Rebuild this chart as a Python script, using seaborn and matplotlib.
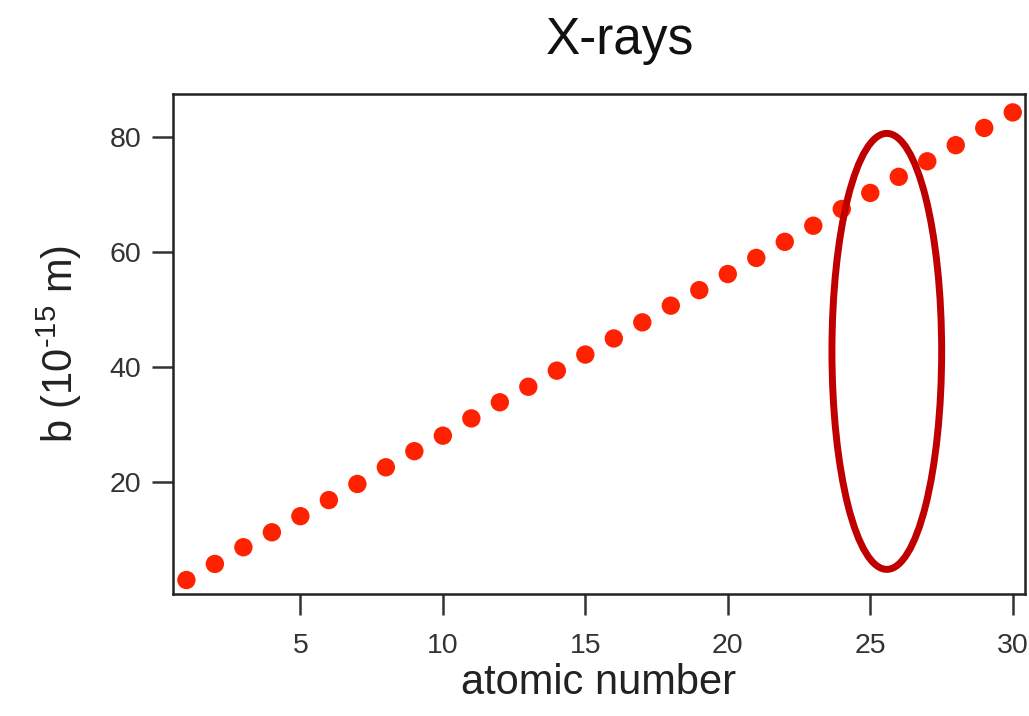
import matplotlib
matplotlib.use("Agg")
import matplotlib.pyplot as plt
import seaborn as sns
import pandas as pd
from matplotlib.patches import Ellipse

atomic_number = list(range(1, 31))
b_values = [3.0, 5.8, 8.7, 11.3, 14.1, 16.9, 19.7, 22.6, 25.4, 28.1,
            31.1, 33.9, 36.6, 39.4, 42.2, 45.0, 47.8, 50.7, 53.4, 56.2,
            59.0, 61.8, 64.6, 67.5, 70.3, 73.1, 75.8, 78.6, 81.6, 84.3]
x_ticks = [5, 10, 15, 20, 25, 30]
y_ticks = [20, 40, 60, 80]
highlight_center = (25.58, 42.75)
highlight_size = (3.85, 75.8)

sns.set_theme(style="ticks")
plt.rcParams['font.family'] = ['Liberation Sans', 'DejaVu Sans']
plt.rcParams['mathtext.fontset'] = 'custom'
plt.rcParams['mathtext.rm'] = 'Liberation Sans'
plt.rcParams['mathtext.it'] = 'Liberation Sans'
plt.rcParams['mathtext.bf'] = 'Liberation Sans'

df = pd.DataFrame({"atomic number": atomic_number, "b": b_values})

fig = plt.figure(figsize=(10.29, 7.16), dpi=100)
ax = fig.add_axes([173/1029, (716-594)/716, (1025-173)/1029, (594-94)/716])

sns.scatterplot(data=df, x="atomic number", y="b", ax=ax, color="#FF2200",
                s=175, edgecolor="none", linewidth=0, zorder=3)

ell = Ellipse(highlight_center, highlight_size[0], highlight_size[1],
              fill=False, edgecolor="#C00000", linewidth=5, zorder=4)
ax.add_patch(ell)

ax.set_xlim(0.53, 30.43)
ax.set_ylim(0.57, 87.5)
ax.set_xticks(x_ticks)
ax.set_yticks(y_ticks)
ax.tick_params(axis='both', direction='out', length=15, width=1.8,
               color='#333333', labelsize=20.5, labelcolor='#333333', pad=8)
ax.tick_params(axis='x', pad=13)
for s in ax.spines.values():
    s.set_visible(True)
    s.set_linewidth(1.8)
    s.set_color('#222222')

ax.set_xlabel("atomic number", fontsize=30, color='#222222', labelpad=3)
ax.set_ylabel(r"b (10$^{\text{-15}}$ m)", fontsize=30, color='#222222', labelpad=18)
fig.text(0.603, 0.944, "X-rays", fontsize=37, ha='center', va='center', color='#111111')

fig.savefig("out.png", dpi=100)
